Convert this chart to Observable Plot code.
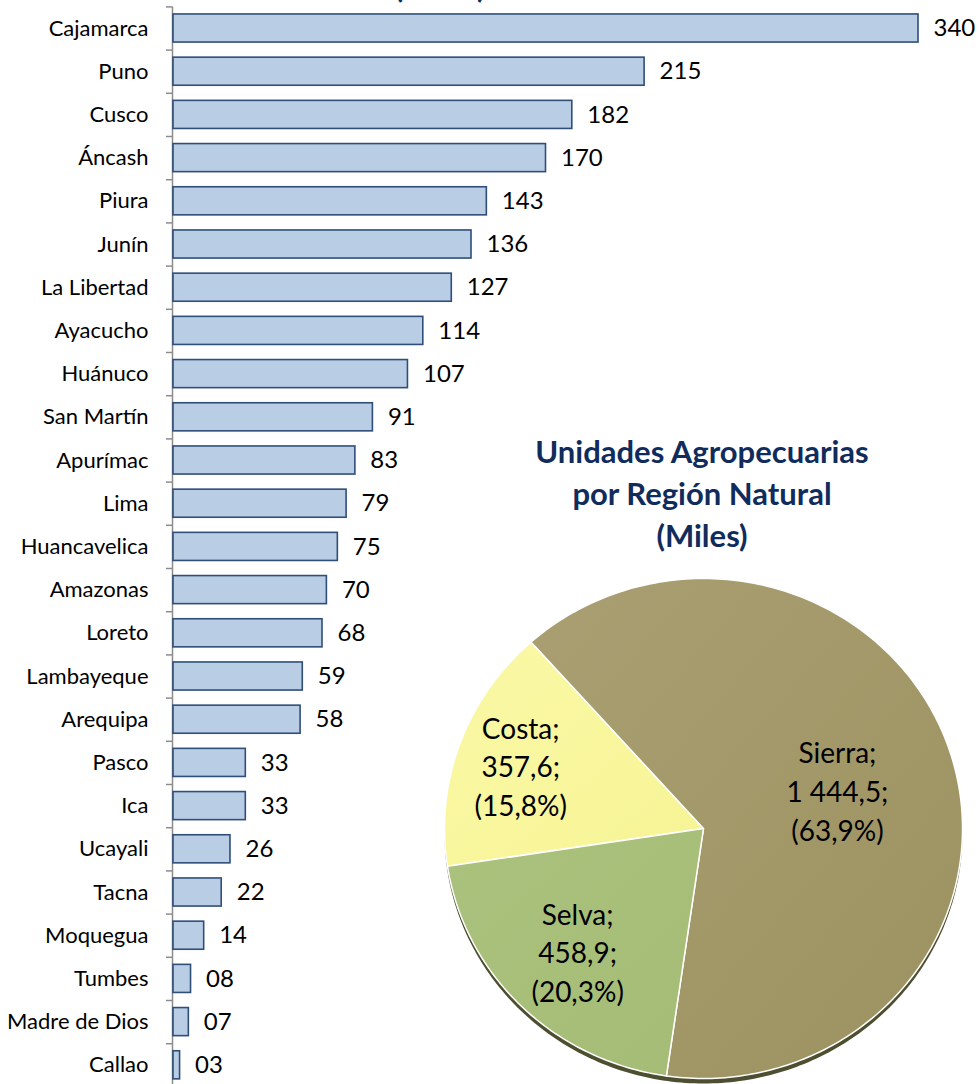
<!DOCTYPE html>
<html>
<head>
<meta charset="utf-8">
<script src="https://cdn.jsdelivr.net/npm/d3@7"></script>
<script src="https://cdn.jsdelivr.net/npm/@observablehq/plot@0.6"></script>
<style>
html, body { margin: 0; padding: 0; overflow: hidden; background: #fff; }
#wrap { position: relative; width: 979px; height: 1084px; overflow: hidden; background: #fff; }
.layer { position: absolute; left: 0; top: 0; }
.title { position: absolute; transform: translateX(-50%); font-family: Lato, sans-serif; font-weight: bold;
  font-size: 31px; color: #102C5C; text-align: center; line-height: 42px; white-space: nowrap; }
</style>
</head>
<body>
<div id="wrap">
  <div id="bars" class="layer"></div>
  <div id="topTitle" class="title" style="left:440px; top:-77px;">Unidades Agropecuarias por Departamento<br>(Miles)</div>
  <div id="pie" class="layer"></div>
  <div id="pieTitle" class="title" style="left:702px; top:430px;">Unidades Agropecuarias<br>por Región Natural<br>(Miles)</div>
</div>
<svg width="0" height="0" style="position:absolute">
  <defs>
    <linearGradient id="sierraGrad" x1="0" y1="0" x2="1" y2="1">
      <stop offset="0" stop-color="#AA9F72"/>
      <stop offset="1" stop-color="#9C915F"/>
    </linearGradient>
    <linearGradient id="selvaGrad" x1="0" y1="0" x2="1" y2="1">
      <stop offset="0" stop-color="#ABC27E"/>
      <stop offset="1" stop-color="#A5BC76"/>
    </linearGradient>
    <linearGradient id="costaGrad" x1="0" y1="0" x2="1" y2="1">
      <stop offset="0" stop-color="#FAF8A6"/>
      <stop offset="1" stop-color="#F7F495"/>
    </linearGradient>
  </defs>
</svg>
<script>
// ---- Data: Unidades agropecuarias por departamento (miles) ----
const departamentos = ["Cajamarca","Puno","Cusco","Áncash","Piura","Junín","La Libertad","Ayacucho","Huánuco",
  "San Martín","Apurímac","Lima","Huancavelica","Amazonas","Loreto","Lambayeque","Arequipa","Pasco","Ica",
  "Ucayali","Tacna","Moquegua","Tumbes","Madre de Dios","Callao"];
const unidades = [340, 215, 182, 170, 143, 136, 127, 114, 107, 91, 83, 79, 75, 70, 68, 59, 58, 33, 33, 26, 22, 14, 8, 7, 3];

// ---- Data: Unidades agropecuarias por región natural (miles) ----
const regiones = ["Costa", "Sierra", "Selva"];
const regionValores = [357.6, 1444.5, 458.9];
const regionColores = ["url(#costaGrad)", "url(#sierraGrad)", "url(#selvaGrad)"];

// ---- Bar chart ----
const barData = departamentos.map((d, i) => ({name: d, value: unidades[i]}));
const H = 1090, MT = 6.4, MB = 3.6;
const step = (H - MT - MB) / departamentos.length;
const fmtBar = v => v < 10 ? d3.format("02d")(v) : String(v);

const bars = Plot.plot({
  width: 979, height: H,
  marginLeft: 173, marginRight: 61, marginTop: MT, marginBottom: MB,
  x: {domain: [0, 340], axis: null},
  y: {domain: departamentos, paddingInner: 0.35, paddingOuter: 0.175, round: false, axis: null},
  style: {fontFamily: "Lato, sans-serif", fontSize: "22px", color: "black", background: "transparent"},
  marks: [
    Plot.axisY({tickSize: 0, tickPadding: 25, fill: "black", label: null}),
    Plot.ruleX([0], {stroke: "#8C8C8C", strokeWidth: 1.5, dx: -1}),
    Plot.ruleY(departamentos, {y: d => d, x1: 0, x2: 0, insetLeft: -6, dy: step / 2, dx: -1, stroke: "#8C8C8C", strokeWidth: 1.5}),
    Plot.ruleY(departamentos.slice(0, 1), {y: d => d, x1: 0, x2: 0, insetLeft: -6, dy: -step / 2, dx: -1, stroke: "#8C8C8C", strokeWidth: 1.5}),
    Plot.barX(barData, {x: "value", y: "name", fill: "#B9CDE5", stroke: "#2F4E78", strokeWidth: 1.6}),
    Plot.text(barData, {x: "value", y: "name", text: d => fmtBar(d.value), dx: 15, textAnchor: "start", fontSize: 24, fill: "black"})
  ]
});
document.getElementById("bars").appendChild(bars);

// ---- Pie chart ----
const deg = Math.PI / 180;
const arcs = d3.pie().sort(null).startAngle(261.3 * deg).endAngle((261.3 + 360) * deg)(regionValores);
const total = d3.sum(regionValores);
const loc = d3.formatLocale({decimal: ",", thousands: " ", grouping: [3], currency: ["", ""]});
const fmtVal = loc.format(",.1f");
const fmtPct = loc.format(".1f");

const slices = arcs.map((a, i) => {
  const pts = [{x: 0, y: 0}];
  const n = Math.max(2, Math.ceil((a.endAngle - a.startAngle) / deg));
  for (let k = 0; k <= n; k++) {
    const t = a.startAngle + (a.endAngle - a.startAngle) * k / n;
    pts.push({x: Math.sin(t), y: Math.cos(t)});
  }
  return pts;
});
const rim = d3.range(0, 361, 1).map(t => ({x: Math.sin(t * deg), y: Math.cos(t * deg)}));
const labelRadius = [0.75, 0.54, 0.69];
const labels = arcs.map((a, i) => {
  const m = (a.startAngle + a.endAngle) / 2;
  return {
    x: labelRadius[i] * Math.sin(m), y: labelRadius[i] * Math.cos(m),
    text: `${regiones[i]};\n${fmtVal(regionValores[i])};\n(${fmtPct(regionValores[i] / total * 100)}%)`
  };
});

const cx = 703, cy = 828, rx = 259, ry = 250;
const pie = Plot.plot({
  width: 979, height: 1084, margin: 0,
  x: {domain: [-1, 1], range: [cx - rx, cx + rx], axis: null},
  y: {domain: [-1, 1], range: [cy + ry, cy - ry], axis: null},
  style: {fontFamily: "Lato, sans-serif", background: "transparent", pointerEvents: "none"},
  marks: [
    Plot.line(rim, {x: "x", y: "y", fill: "#4E4F31", stroke: "none", dy: 5, curve: "linear-closed"}),
    ...slices.map((pts, i) => Plot.line(pts, {x: "x", y: "y", fill: regionColores[i], stroke: "white", strokeWidth: 1.5, curve: "linear-closed"})),
    Plot.text(labels, {x: "x", y: "y", text: "text", fontSize: 28, lineHeight: 1.38, fill: "black"})
  ]
});
document.getElementById("pie").appendChild(pie);
</script>
</body>
</html>
